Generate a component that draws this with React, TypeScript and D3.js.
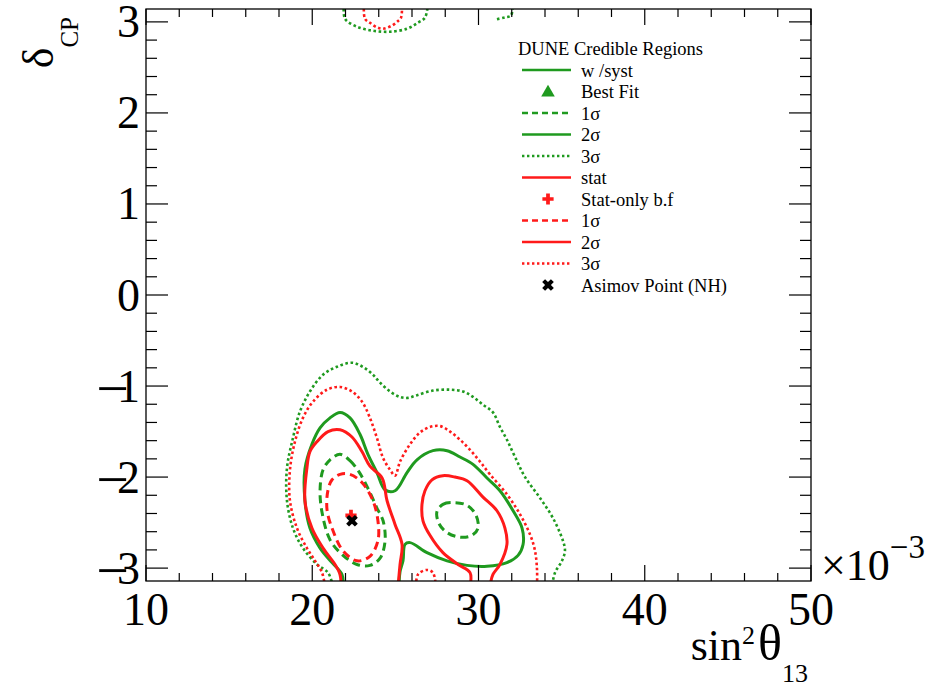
import React from 'react';
import * as d3 from 'd3';

type Pt = [number, number];

// Axis ticks (sin^2 theta13 in units of 1e-3, delta_CP in radians)
const X_TICKS = [10, 20, 30, 40, 50];
const Y_TICKS = [-3, -2, -1, 0, 1, 2, 3];

// ---- Credible-region contours with systematics (green) ----
const syst1Left: Pt[] = [
  [21.67, -1.75], [22.27, -1.82], [22.87, -1.96], [23.47, -2.17], [23.89, -2.34],
  [24.26, -2.48], [24.38, -2.7], [24.08, -2.89], [23.47, -2.97], [22.69, -2.96],
  [21.79, -2.85], [21.07, -2.69], [20.59, -2.39], [20.47, -2.14], [20.65, -1.92],
  [21.07, -1.81],
];
const syst1Right: Pt[] = [
  [27.5, -2.38], [27.86, -2.3], [28.47, -2.28], [29.31, -2.31], [29.85, -2.42],
  [29.97, -2.56], [29.61, -2.64], [28.89, -2.66], [28.11, -2.61], [27.62, -2.51],
];
const syst2: Pt[] = [
  [21.85, -3.2], [21.79, -3.07], [21.19, -2.94], [20.47, -2.78], [19.86, -2.56],
  [19.56, -2.26], [19.56, -1.91], [19.98, -1.64], [20.47, -1.46], [21.07, -1.35],
  [21.67, -1.29], [22.27, -1.35], [22.87, -1.53], [23.35, -1.75], [23.89, -1.95],
  [24.38, -2.14], [24.98, -2.15], [25.7, -1.95], [26.3, -1.81], [27.26, -1.71],
  [28.11, -1.71], [28.89, -1.78], [29.67, -1.86], [30.51, -2.01], [31.29, -2.15],
  [32.08, -2.37], [32.62, -2.56], [32.68, -2.74], [32.38, -2.86], [31.71, -2.94],
  [30.51, -2.98], [29.31, -2.97], [28.11, -2.92], [26.9, -2.83], [25.88, -2.72],
  [25.58, -2.74], [25.46, -2.92], [25.28, -3.04], [25.22, -3.2],
];
const syst3Main: Pt[] = [
  [21.25, -3.2], [20.95, -3.05], [20.29, -2.96], [19.44, -2.78], [18.84, -2.56],
  [18.48, -2.26], [18.48, -1.9], [18.84, -1.57], [19.26, -1.28], [19.86, -1.06],
  [20.65, -0.875], [21.49, -0.788], [22.39, -0.744], [23.05, -0.79], [23.65, -0.875],
  [24.08, -0.963], [24.68, -1.06], [25.28, -1.12], [25.76, -1.13], [26.3, -1.1],
  [27.26, -1.05], [28.29, -1.04], [29.07, -1.06], [29.67, -1.12], [30.27, -1.205],
  [30.87, -1.29], [31.29, -1.45], [31.71, -1.59], [32.2, -1.78], [32.8, -2.0],
  [33.7, -2.23], [34.48, -2.45], [35.08, -2.7], [35.2, -2.81], [35.02, -2.92],
  [34.6, -3.05], [34.42, -3.2],
];
const syst3Top: Pt[] = [
  [21.91, 3.2], [21.97, 3.035], [22.69, 2.947], [23.65, 2.903], [24.68, 2.892],
  [25.7, 2.925], [26.36, 2.991], [26.78, 3.046], [26.96, 3.2],
];
const syst3TopRight: Pt[] = [
  [31.11, 3.03], [31.59, 3.05], [31.95, 3.07], [32.08, 3.2],
];

// ---- Statistics-only contours (red) ----
const stat1Left: Pt[] = [
  [21.67, -1.97], [22.27, -1.97], [22.99, -2.06], [23.65, -2.26], [23.95, -2.48],
  [23.95, -2.7], [23.47, -2.87], [22.69, -2.92], [21.85, -2.81], [21.25, -2.59],
  [20.89, -2.36], [20.95, -2.14], [21.19, -2.03],
];
const stat2Left: Pt[] = [
  [21.73, -3.2], [21.67, -3.07], [21.37, -2.96], [20.65, -2.78], [19.98, -2.56],
  [19.56, -2.26], [19.68, -1.9], [19.86, -1.72], [20.29, -1.61], [20.95, -1.5],
  [21.67, -1.48], [22.39, -1.56], [22.99, -1.72], [23.47, -1.88], [24.2, -2.01],
  [24.5, -2.26], [24.98, -2.52], [25.4, -2.74], [25.28, -2.96], [25.16, -3.2],
];
const stat2Right: Pt[] = [
  [29.49, -3.2], [29.49, -3.05], [28.77, -2.96], [27.86, -2.83], [27.08, -2.64],
  [26.66, -2.48], [26.6, -2.3], [26.78, -2.15], [27.2, -2.03], [27.86, -1.985],
  [28.59, -2.0], [29.31, -2.04], [30.27, -2.22], [31.11, -2.37], [31.59, -2.56],
  [31.71, -2.74], [31.29, -2.96], [30.87, -3.07], [30.69, -3.2],
];
const stat3Main: Pt[] = [
  [20.77, -3.2], [20.59, -3.05], [20.17, -2.92], [19.68, -2.78], [19.08, -2.56],
  [18.66, -2.26], [18.66, -1.92], [18.96, -1.61], [19.44, -1.35], [20.05, -1.17],
  [20.89, -1.04], [21.67, -1.01], [22.39, -1.06], [22.99, -1.17], [23.47, -1.35],
  [23.89, -1.57], [24.26, -1.79], [24.68, -1.92], [24.98, -1.985], [25.28, -1.83],
  [25.88, -1.64], [26.48, -1.51], [27.08, -1.45], [27.68, -1.44], [28.29, -1.5],
  [28.89, -1.59], [29.49, -1.7], [30.09, -1.83], [30.69, -1.97], [31.71, -2.19],
  [32.5, -2.41], [33.1, -2.63], [33.4, -2.81], [33.52, -3.02], [33.52, -3.2],
];
const stat3Top: Pt[] = [
  [23.11, 3.2], [23.17, 3.035], [23.47, 2.99], [23.89, 2.94], [24.26, 2.925],
  [24.8, 2.96], [25.16, 3.01], [25.34, 3.046], [25.4, 3.2],
];
const stat3Bottom: Pt[] = [
  [26.24, -3.2], [26.36, -3.07], [26.9, -3.02], [27.26, -3.05], [27.44, -3.2],
];

// Fitted / injected points
const statBestFit: Pt = [22.33, -2.42];
const asimovPoint: Pt = [22.39, -2.48];

const GREEN = '#1f9a1f';
const RED = '#ff1a1a';
const DASH = '8 5';
const DOT = '2.6 2.6';

const LEGEND_TITLE = 'DUNE Credible Regions';
const LEGEND_LABELS = [
  'w /syst', 'Best Fit', '1σ', '2σ', '3σ',
  'stat', 'Stat-only b.f', '1σ', '2σ', '3σ', 'Asimov Point (NH)',
];
const LEGEND_KINDS = [
  'solid', 'triangle', 'dash', 'solid', 'dot',
  'solid', 'plus', 'dash', 'solid', 'dot', 'times',
];
const LEGEND_COLORS = [
  GREEN, GREEN, GREEN, GREEN, GREEN,
  RED, RED, RED, RED, RED, '#000',
];

const FONT = "'Liberation Serif', 'Times New Roman', serif";

export default function App() {
  const left = 146, right = 811, top = 9, bottom = 581;
  const x = d3.scaleLinear().domain([10, 50]).range([left, right]);
  const y = d3.scaleLinear().domain([-Math.PI, Math.PI]).range([bottom, top]);

  const open = d3.line<Pt>().x(d => x(d[0])).y(d => y(d[1])).curve(d3.curveCatmullRom.alpha(0.5));
  const closed = d3.line<Pt>().x(d => x(d[0])).y(d => y(d[1])).curve(d3.curveCatmullRomClosed.alpha(0.5));

  const plusPath = d3.symbol(d3.symbolCross, 70)()!;
  const timesPath = d3.symbol(d3.symbolCross, 85)()!;
  const triPath = d3.symbol(d3.symbolTriangle, 80)()!;

  const xMinor = d3.range(10, 51, 2);
  const yMinor = d3.range(-15, 16).map(i => i / 5);

  const contour = (d: string, color: string, dash: string | undefined, key: string, w = 3) => (
    <path key={key} d={d} fill="none" stroke={color} strokeWidth={w}
      strokeDasharray={dash} strokeLinejoin="round" />
  );

  const legendX0 = 522, legendX1 = 571, legendMarkX = 548, legendTextX = 581;
  const rowY = (i: number) => 70 + i * 21.5;

  return (
    <svg width={925} height={688} style={{ position: 'absolute', left: 0, top: 0, background: '#fff' }}
      fontFamily={FONT}>
      <defs>
        <clipPath id="frame-clip">
          <rect x={left} y={top} width={right - left} height={bottom - top} />
        </clipPath>
      </defs>

      <g clipPath="url(#frame-clip)">
        {/* systematics included */}
        {contour(open(syst3Main)!, GREEN, DOT, 'g3m', 2.6)}
        {contour(open(syst3Top)!, GREEN, DOT, 'g3t', 2.6)}
        {contour(open(syst3TopRight)!, GREEN, DOT, 'g3tr', 2.6)}
        {contour(open(syst2)!, GREEN, undefined, 'g2')}
        {contour(closed(syst1Left)!, GREEN, DASH, 'g1l')}
        {contour(closed(syst1Right)!, GREEN, DASH, 'g1r')}
        {/* statistics only */}
        {contour(open(stat3Main)!, RED, DOT, 'r3m', 2.6)}
        {contour(open(stat3Top)!, RED, DOT, 'r3t', 2.6)}
        {contour(open(stat3Bottom)!, RED, DOT, 'r3b', 2.6)}
        {contour(open(stat2Left)!, RED, undefined, 'r2l')}
        {contour(open(stat2Right)!, RED, undefined, 'r2r')}
        {contour(closed(stat1Left)!, RED, DASH, 'r1l')}

        <path d={plusPath} fill={RED} transform={`translate(${x(statBestFit[0])},${y(statBestFit[1])})`} />
        <path d={timesPath} fill="#000"
          transform={`translate(${x(asimovPoint[0])},${y(asimovPoint[1])}) rotate(45)`} />
      </g>

      {/* frame */}
      <rect x={left} y={top} width={right - left} height={bottom - top} fill="none" stroke="#000" strokeWidth={1.3} />

      {/* x ticks, bottom and top */}
      {xMinor.map(v => {
        const major = X_TICKS.includes(v);
        const len = major ? 16 : 8;
        return (
          <g key={`xt${v}`} stroke="#000" strokeWidth={1.2}>
            <line x1={x(v)} x2={x(v)} y1={bottom} y2={bottom - len} />
            <line x1={x(v)} x2={x(v)} y1={top} y2={top + len} />
          </g>
        );
      })}
      {/* y ticks, left and right */}
      {yMinor.map(v => {
        const major = Math.abs(v - Math.round(v)) < 1e-9;
        const len = major ? 22 : 11;
        return (
          <g key={`yt${v}`} stroke="#000" strokeWidth={1.2}>
            <line x1={left} x2={left + len} y1={y(v)} y2={y(v)} />
            <line x1={right} x2={right - len} y1={y(v)} y2={y(v)} />
          </g>
        );
      })}

      {/* x tick labels */}
      {X_TICKS.map(v => (
        <text key={`xl${v}`} x={x(v)} y={625} fontSize={46} textAnchor="middle" fill="#000">{v}</text>
      ))}
      {/* y tick labels; the minus is drawn as a long dash over the digit */}
      {Y_TICKS.map(v => (
        <g key={`yl${v}`} fill="#000">
          <text x={140} y={y(v) + 15.5} textAnchor="end" fontSize={46}>{Math.abs(v)}</text>
          {v < 0 && (
            <text x={129} y={y(v) + 22} textAnchor="end" fontSize={58}>−</text>
          )}
        </g>
      ))}

      {/* exponent */}
      <text x={821} y={580} fontSize={44} fill="#000">
        ×10<tspan dy={-22} fontSize={33}>−3</tspan>
      </text>

      {/* axis titles */}
      <text x={808} y={660} fontSize={44} textAnchor="end" fill="#000">
        sin<tspan dy={-16} fontSize={26}>2</tspan><tspan dy={16} dx={3} fontSize={50}>θ</tspan><tspan dy={22} fontSize={26}>13</tspan>
      </text>
      <text transform="translate(53,17) rotate(-90)" fontSize={44} textAnchor="end" fill="#000">
        δ<tspan dy={25} fontSize={25}>CP</tspan>
      </text>

      {/* legend */}
      <text x={518} y={55} fontSize={18.5} fill="#000">{LEGEND_TITLE}</text>
      {LEGEND_LABELS.map((label, i) => {
        const yc = rowY(i);
        const kind = LEGEND_KINDS[i];
        const color = LEGEND_COLORS[i];
        let mark: React.ReactNode = null;
        if (kind === 'solid' || kind === 'dash' || kind === 'dot') {
          mark = (
            <line x1={legendX0} x2={legendX1} y1={yc} y2={yc} stroke={color}
              strokeWidth={kind === 'dot' ? 2.4 : 2.6}
              strokeDasharray={kind === 'dash' ? '6 4' : kind === 'dot' ? '2.4 2.6' : undefined} />
          );
        } else if (kind === 'triangle') {
          mark = <path d={triPath} fill={color} transform={`translate(${legendMarkX},${yc + 1})`} />;
        } else if (kind === 'plus') {
          mark = <path d={plusPath} fill={color} transform={`translate(${legendMarkX},${yc})`} />;
        } else if (kind === 'times') {
          mark = <path d={timesPath} fill={color} transform={`translate(${legendMarkX},${yc}) rotate(45)`} />;
        }
        return (
          <g key={`lg${i}`}>
            {mark}
            <text x={legendTextX} y={yc + 6.5} fontSize={18.5} fill="#000">{label}</text>
          </g>
        );
      })}
    </svg>
  );
}
